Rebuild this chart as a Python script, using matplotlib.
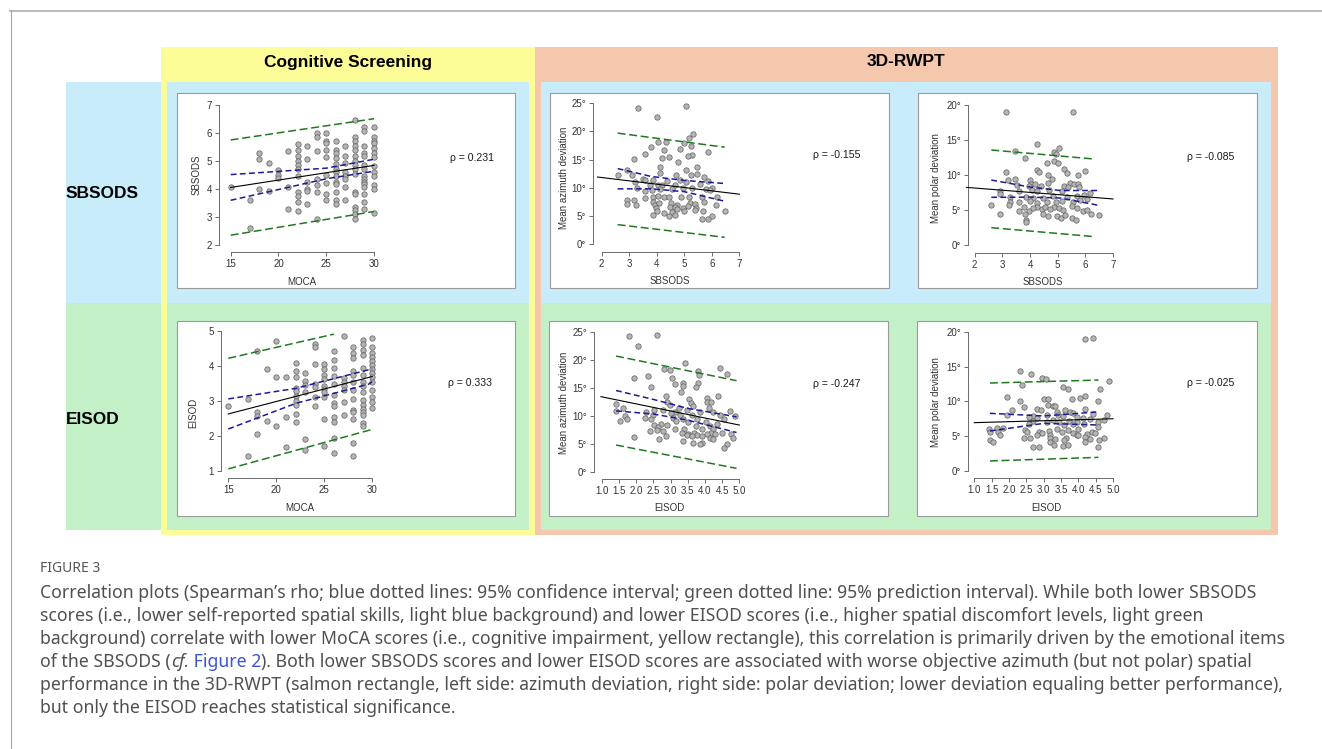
import numpy as np
import matplotlib.pyplot as plt

plt.rcParams['font.family'] = ['Liberation Sans', 'DejaVu Sans']

W, H = 1322, 749

# ---------------- data ----------------
moca_levels = [15, 17, 18, 19, 20, 21, 22, 23, 24, 25, 26, 27, 28, 29, 30]

# SBSODS vs MoCA
sbsods_by_moca = [
    [4.07], [3.60, 2.60], [5.29, 5.08, 4.01], [4.95, 3.94], [4.67, 4.51, 4.39],
    [5.35, 4.07, 3.29],
    [5.62, 5.40, 5.20, 5.01, 4.85, 4.71, 4.48, 3.89, 3.76, 3.54, 3.21],
    [5.55, 5.07, 4.27, 4.00, 3.93, 3.46],
    [6.00, 5.88, 5.36, 4.36, 4.15, 3.88, 2.94],
    [6.00, 5.74, 5.64, 5.40, 5.14, 4.49, 4.21, 3.81, 3.62],
    [5.74, 5.40, 5.29, 5.10, 4.90, 4.73, 4.63, 4.48, 4.27, 4.17, 3.89, 3.62, 3.48],
    [5.55, 5.20, 4.95, 4.63, 4.48, 4.36, 4.07, 3.62],
    [6.48, 5.88, 5.74, 5.55, 5.40, 5.20, 5.01, 4.85, 4.73, 4.55, 3.89, 3.81, 3.36, 3.24, 3.12, 2.94],
    [6.21, 6.08, 5.55, 5.29, 5.20, 4.85, 4.73, 4.48, 4.36, 4.27, 4.17, 4.07, 3.81, 3.54, 3.29],
    [6.21, 5.88, 5.74, 5.64, 5.46, 5.29, 5.14, 4.81, 4.63, 4.48, 4.13, 4.01, 3.14],
]

# EISOD vs MoCA
eisod_by_moca = [
    [2.87], [3.05, 1.43], [4.43, 2.68, 2.56, 2.06], [3.92, 2.43], [4.72, 3.68, 2.30],
    [3.68, 2.55, 1.68],
    [4.10, 3.87, 3.68, 3.38, 3.29, 3.15, 3.00, 2.89, 2.62, 2.41],
    [3.79, 3.56, 3.46, 3.25, 1.92, 1.61],
    [4.62, 4.53, 4.05, 3.49, 3.41, 3.12, 2.87],
    [4.05, 3.91, 3.74, 3.63, 3.44, 3.34, 3.25, 3.12, 2.50, 1.72],
    [4.43, 4.17, 3.93, 3.72, 3.50, 3.17, 2.93, 2.87, 2.55, 2.41, 1.93, 1.52],
    [4.87, 3.67, 3.55, 3.44, 3.31, 2.98, 2.60],
    [4.55, 4.36, 4.22, 3.86, 3.74, 3.55, 3.31, 3.06, 2.74, 2.68, 2.49, 1.79, 1.43],
    [4.74, 4.62, 4.46, 4.31, 3.93, 3.74, 3.55, 3.43, 3.25, 3.03, 2.90, 2.77, 2.68, 2.60, 2.36, 2.30],
    [4.81, 4.55, 4.36, 4.27, 4.14, 4.03, 3.91, 3.79, 3.70, 3.55, 3.31, 3.12, 2.98, 2.79],
]

# (SBSODS, mean azimuth deviation)
sbsods_azimuth = [
    (3.33, 24.2), (5.06, 24.6), (4.00, 22.5), (5.33, 19.6), (5.18, 18.8), (4.99, 17.9),
    (4.04, 18.1), (4.33, 18.2), (5.87, 16.4), (3.80, 17.2), (4.26, 16.7), (4.84, 16.9),
    (5.26, 17.5), (5.28, 15.9), (5.13, 15.7), (3.57, 16.0), (3.19, 15.1), (4.19, 15.3),
    (4.45, 15.4), (4.78, 14.5), (4.11, 13.7), (5.46, 13.7), (2.93, 13.2), (5.05, 13.1),
    (4.12, 12.6), (5.45, 12.5), (2.58, 12.2), (3.10, 12.2), (4.70, 12.2), (5.24, 12.2),
    (5.72, 11.9), (3.49, 11.5), (3.87, 11.4), (4.39, 11.2), (4.85, 11.4), (5.08, 11.0),
    (5.87, 11.2), (3.20, 11.0), (3.58, 11.3), (3.75, 10.4), (4.03, 10.5), (4.19, 10.4),
    (4.66, 10.5), (5.59, 10.7), (3.27, 9.9), (3.58, 9.4), (3.83, 9.6), (4.12, 9.8),
    (4.54, 9.7), (4.94, 10.0), (5.28, 9.9), (5.78, 9.8), (6.00, 9.9), (5.93, 9.6),
    (3.58, 8.1), (3.85, 8.4), (4.04, 8.6), (4.26, 8.3), (4.45, 8.3), (4.87, 8.3),
    (5.18, 8.3), (5.63, 8.4), (6.18, 8.3), (2.93, 7.8), (3.16, 7.8), (2.93, 7.1),
    (3.26, 6.9), (3.87, 7.5), (3.95, 6.9), (4.08, 7.2), (4.50, 7.2), (4.73, 6.9),
    (5.20, 7.2), (5.39, 7.1), (5.71, 7.4), (6.17, 6.9), (3.97, 6.4), (4.48, 6.5),
    (4.66, 6.5), (4.94, 6.4), (5.14, 6.7), (5.44, 6.4), (5.69, 5.9), (5.00, 5.9),
    (4.72, 6.2), (5.38, 6.1), (6.47, 5.8), (4.26, 5.5), (4.54, 5.6), (3.87, 5.2),
    (4.45, 5.0), (4.66, 5.1), (5.66, 4.5), (5.86, 4.4), (6.00, 4.9), (4.02, 5.9),
]

# (SBSODS, mean polar deviation)
sbsods_polar = [
    (3.13, 19.0), (5.54, 19.1), (4.27, 14.5), (3.47, 13.4), (5.06, 13.9), (4.87, 13.3),
    (4.95, 13.0), (3.81, 12.5), (4.62, 11.8), (4.87, 12.0), (5.01, 11.8), (5.22, 10.9),
    (4.25, 10.7), (4.34, 10.4), (5.35, 10.3), (3.13, 10.5), (6.00, 10.6), (4.65, 10.0),
    (5.73, 10.0), (3.20, 9.3), (3.47, 9.4), (4.01, 9.3), (4.80, 9.4), (3.54, 8.6),
    (4.05, 8.7), (4.17, 8.7), (4.66, 8.9), (5.45, 8.9), (5.59, 8.7), (5.72, 8.8),
    (3.95, 8.4), (4.39, 8.4), (5.23, 8.4), (5.37, 8.3), (5.78, 8.3), (2.93, 7.7),
    (3.59, 7.7), (4.07, 7.9), (4.27, 7.7), (4.67, 7.9), (5.16, 7.8), (6.17, 7.5),
    (5.95, 7.2), (2.92, 7.3), (3.28, 6.9), (3.86, 6.9), (4.12, 6.8), (4.46, 6.8),
    (4.82, 7.0), (5.33, 6.9), (5.69, 7.0), (6.05, 6.6), (3.28, 6.2), (3.59, 6.1),
    (4.00, 6.3), (4.24, 6.0), (4.60, 6.1), (4.94, 6.2), (5.14, 6.3), (5.57, 6.1),
    (5.81, 6.4), (3.25, 5.7), (2.60, 5.7), (3.59, 4.9), (3.80, 5.4), (4.24, 5.4),
    (4.42, 5.2), (4.54, 5.5), (4.87, 5.4), (5.04, 5.3), (5.20, 5.0), (5.52, 5.6),
    (5.71, 5.3), (5.93, 4.9), (3.98, 4.9), (4.12, 5.3), (2.92, 4.5), (3.82, 4.4),
    (4.48, 4.4), (4.65, 4.2), (4.96, 4.2), (5.13, 3.8), (5.52, 3.9), (5.66, 3.6),
    (6.19, 4.5), (6.48, 4.3), (3.86, 3.6), (3.86, 3.3), (4.72, 5.1), (5.25, 4.3),
    (6.05, 5.0),
]

# (EISOD, mean azimuth deviation)
eisod_azimuth = [
    (1.80, 24.2), (2.61, 24.5), (2.04, 22.5), (3.43, 19.5), (4.44, 18.6), (2.99, 18.2),
    (2.82, 18.3), (3.81, 17.9), (3.83, 17.3), (4.63, 17.4), (2.35, 17.1), (1.93, 16.7),
    (3.05, 16.8), (3.79, 15.8), (3.12, 15.7), (3.37, 15.9), (3.37, 15.3), (3.73, 15.2),
    (2.43, 15.1), (3.31, 14.3), (4.37, 13.6), (2.86, 13.6), (3.54, 13.0), (4.05, 13.1),
    (4.05, 12.5), (4.17, 12.4), (2.88, 12.4), (3.59, 12.2), (1.41, 12.1), (2.98, 12.0),
    (3.66, 11.8), (1.62, 11.3), (3.25, 11.4), (4.13, 11.3), (2.51, 11.0), (2.79, 11.1),
    (3.47, 11.0), (1.42, 10.9), (4.73, 10.8), (2.27, 10.6), (3.13, 10.7), (3.85, 10.6),
    (4.24, 10.7), (3.00, 10.4), (3.27, 10.1), (3.61, 10.2), (2.50, 10.1), (4.44, 10.1),
    (4.87, 10.0), (1.67, 9.9), (2.25, 9.6), (2.42, 9.5), (3.08, 9.6), (3.37, 9.5),
    (3.76, 9.4), (4.56, 9.4), (1.72, 9.4), (1.52, 9.0), (3.17, 9.0), (3.50, 8.9),
    (4.02, 8.8), (4.34, 8.6), (2.72, 8.6), (2.51, 8.3), (2.88, 8.3), (2.64, 8.0),
    (3.74, 8.2), (4.15, 8.2), (3.13, 7.7), (3.39, 7.6), (3.92, 7.6), (4.24, 7.6),
    (2.59, 7.4), (2.41, 7.3), (2.77, 7.3), (3.32, 7.0), (3.51, 6.8), (3.68, 7.0),
    (4.17, 7.0), (4.51, 7.0), (4.76, 6.8), (3.47, 6.5), (3.78, 6.5), (4.05, 6.7),
    (4.29, 6.7), (3.61, 6.4), (3.90, 6.3), (1.92, 6.2), (2.86, 6.4), (2.67, 5.8),
    (4.15, 6.0), (4.24, 5.8), (4.81, 6.0), (3.37, 5.4), (3.90, 5.2), (3.64, 5.1),
    (3.85, 4.9), (4.63, 4.9), (4.56, 4.3),
]

# (EISOD, mean polar deviation)
eisod_polar = [
    (4.18, 18.9), (4.43, 19.1), (2.32, 14.4), (2.63, 13.9), (2.95, 13.4), (3.07, 13.2),
    (4.89, 12.9), (2.38, 12.4), (3.57, 12.0), (3.69, 11.8), (4.63, 11.8), (1.95, 10.6),
    (3.00, 10.4), (3.12, 10.4), (3.82, 10.3), (4.05, 10.5), (4.19, 10.8), (2.32, 10.0),
    (4.58, 10.0), (3.13, 9.5), (3.26, 9.4), (3.32, 9.3), (2.44, 9.2), (2.82, 8.9),
    (2.93, 8.8), (3.63, 8.8), (4.20, 8.9), (2.08, 8.7), (3.38, 8.4), (3.76, 8.5),
    (3.86, 8.3), (4.41, 8.2), (1.95, 8.0), (4.82, 8.0), (3.42, 8.0), (2.70, 7.9),
    (3.09, 8.0), (3.57, 7.9), (3.97, 7.8), (2.58, 7.7), (2.80, 7.6), (4.13, 7.6),
    (4.34, 7.5), (4.74, 7.3), (3.28, 7.3), (3.72, 7.2), (2.70, 7.2), (3.95, 7.1),
    (3.09, 7.0), (3.44, 7.0), (4.58, 7.0), (2.58, 6.8), (3.86, 6.8), (4.16, 6.7),
    (3.59, 6.6), (4.58, 6.3), (1.43, 6.1), (1.66, 6.2), (1.84, 6.2), (2.46, 5.9),
    (3.38, 6.0), (3.71, 5.9), (4.00, 6.1), (1.45, 5.6), (1.69, 5.6), (2.53, 5.6),
    (2.87, 5.6), (3.16, 5.7), (3.52, 5.6), (3.84, 5.4), (4.38, 5.6), (2.94, 5.4),
    (1.74, 5.1), (2.82, 5.2), (3.18, 5.1), (3.95, 5.2), (4.24, 5.3), (4.48, 5.4),
    (2.43, 4.8), (2.61, 4.8), (3.18, 4.8), (3.64, 4.8), (4.18, 4.9), (4.74, 4.8),
    (4.34, 4.6), (1.45, 4.4), (1.55, 4.1), (3.18, 4.2), (3.33, 4.6), (3.60, 4.4),
    (4.19, 4.1), (4.60, 4.5), (3.30, 3.8), (3.55, 3.6), (3.69, 3.8), (2.68, 3.4),
    (2.86, 3.4), (4.58, 3.5), (4.00, 5.2),
]

# regression line, 95% CI and 95% PI, read at a few x positions
fit_x = [[15, 30], [1.85, 7.0], [1.7, 7.0], [15, 30], [0.97, 5.0], [1.0, 5.0]]
fit_y = [[4.06, 4.85], [11.9, 8.85], [8.25, 6.59], [2.63, 3.70], [13.4, 8.33], [6.94, 7.50]]
ci_x = [[15, 25, 30], [2.58, 3.8, 5.0, 6.47], [2.6, 4.0, 5.1, 6.48],
        [15, 22, 29.6, 30], [1.41, 2.5, 3.5, 4.92], [1.45, 3.0, 4.6]]
ci_hi = [[4.52, 4.75, 5.07], [13.4, 12.0, 11.3, 10.75], [9.3, 8.3, 7.8, 7.8],
         [3.06, 3.36, 3.89, 3.91], [14.5, 12.9, 11.3, 9.8], [8.28, 7.9, 8.5]]
ci_lo = [[3.60, 4.37, 4.64], [9.8, 9.8, 9.3, 7.6], [6.83, 6.85, 6.73, 5.68],
         [2.20, 2.93, 3.48, 3.55], [10.85, 10.3, 9.2, 7.0], [5.74, 6.84, 6.6]]
pi_x = [[15, 30], [2.58, 6.47], [2.6, 6.35], [15, 26], [1.41, 4.92], [1.45, 4.58]]
pi_hi = [[5.76, 6.52], [19.7, 17.2], [13.6, 12.3], [4.22, 4.91], [20.65, 16.25], [12.63, 13.06]]
pi_x_lo = [[15, 30], [2.58, 6.47], [2.6, 6.35], [15, 30], [1.41, 4.92], [1.45, 4.58]]
pi_lo = [[2.35, 3.20], [3.44, 1.19], [2.48, 1.19], [1.06, 2.19], [4.76, 0.6], [1.44, 1.96]]

rho_labels = ['ρ = 0.231', 'ρ = -0.155', 'ρ = -0.085', 'ρ = 0.333', 'ρ = -0.247', 'ρ = -0.025']
x_labels = ['MOCA', 'SBSODS', 'SBSODS', 'MOCA', 'EISOD', 'EISOD']
y_labels = ['SBSODS', 'Mean azimuth deviation', 'Mean polar deviation',
            'EISOD', 'Mean azimuth deviation', 'Mean polar deviation']
x_ticks = [[15, 20, 25, 30], [2, 3, 4, 5, 6, 7], [2, 3, 4, 5, 6, 7],
           [15, 20, 25, 30], [1.0, 1.5, 2.0, 2.5, 3.0, 3.5, 4.0, 4.5, 5.0],
           [1.0, 1.5, 2.0, 2.5, 3.0, 3.5, 4.0, 4.5, 5.0]]
y_ticks = [[2, 3, 4, 5, 6, 7], [0, 5, 10, 15, 20, 25], [0, 5, 10, 15, 20],
           [1, 2, 3, 4, 5], [0, 5, 10, 15, 20, 25], [0, 5, 10, 15, 20]]
degree_axis = [False, True, True, False, True, True]

caption_lines = [
    "Correlation plots (Spearman\u2019s rho; blue dotted lines: 95% confidence interval; green dotted line: 95% prediction interval). While both lower SBSODS",
    "scores (i.e., lower self-reported spatial skills, light blue background) and lower EISOD scores (i.e., higher spatial discomfort levels, light green",
    "background) correlate with lower MoCA scores (i.e., cognitive impairment, yellow rectangle), this correlation is primarily driven by the emotional items",
    None,
    "performance in the 3D-RWPT (salmon rectangle, left side: azimuth deviation, right side: polar deviation; lower deviation equaling better performance),",
    "but only the EISOD reaches statistical significance.",
]

# ---------------- layout (pixels) ----------------
# (x-tick px a, b), (y-tick px a, b), left spine px, bottom spine px
panel_px = [
    ((230.7, 374.0), (245.0, 105.3), 219.3, 252.3),
    ((601.7, 739.3), (244.0, 103.3), 593.3, 252.3),
    ((974.7, 1113.0), (245.0, 105.3), 968.3, 253.3),
    ((228.3, 372.3), (471.0, 331.0), 221.0, 478.3),
    ((602.0, 739.3), (471.7, 331.7), 594.3, 479.0),
    ((974.3, 1113.0), (471.0, 331.7), 968.3, 478.3),
]
white_boxes = [(177, 93, 515, 288), (550, 93, 889, 288), (918, 93, 1257, 288),
               (177, 321, 515, 516), (549, 321, 888, 516), (917, 321, 1257, 516)]
rho_pos = [(450, 158), (813, 155), (1187, 157), (448, 383), (813, 384), (1187, 383)]
ylab_pos = [(197, 175), (564, 178), (936, 178), (193, 413), (564, 403), (936, 402)]
xlab_pos = [(302, 282), (670, 281), (1043, 282), (300, 508), (669, 508), (1046, 508)]

fig = plt.figure(figsize=(W / 100, H / 100), dpi=100)
bg = fig.add_axes([0, 0, 1, 1])
bg.set_xlim(0, W)
bg.set_ylim(H, 0)
bg.axis('off')

def box(x0, y0, x1, y1, fc, ec='none', lw=0):
    bg.add_patch(plt.Rectangle((x0, y0), x1 - x0, y1 - y0, facecolor=fc, edgecolor=ec, linewidth=lw))

# page frame
bg.plot([10, W], [10.5, 10.5], color='#bdbdbd', lw=1.5)
bg.plot([10.5, 10.5], [10, H], color='#a8a8a8', lw=0.8)

# coloured background blocks
yellow, salmon, blue, green = '#fdfd97', '#f5c7ad', '#c9ecfa', '#c3f0c7'
box(161, 47, 535, 535, yellow)
box(535, 47, 1278, 535, salmon)
for x0, x1 in [(66, 161), (167, 529), (541, 1271)]:
    box(x0, 82, x1, 303, blue)
    box(x0, 303, x1, 530, green)

for (x0, y0, x1, y1) in white_boxes:
    box(x0, y0, x1, y1, 'white', ec='#9a9a9a', lw=0.8)

bg.text(348, 62, 'Cognitive Screening', ha='center', va='center', fontsize=12.5, fontweight='bold')
bg.text(906, 62, '3D-RWPT', ha='center', va='center', fontsize=12.5, fontweight='bold')
bg.text(66, 194, 'SBSODS', ha='left', va='center', fontsize=12.5, fontweight='bold')
bg.text(66, 419, 'EISOD', ha='left', va='center', fontsize=12.5, fontweight='bold')

# ---------------- scatter panels ----------------
moca_a = np.repeat(moca_levels, [len(v) for v in sbsods_by_moca])
moca_b = np.repeat(moca_levels, [len(v) for v in eisod_by_moca])
scatter_data = [
    (moca_a, np.concatenate(sbsods_by_moca)),
    tuple(np.array(sbsods_azimuth).T),
    tuple(np.array(sbsods_polar).T),
    (moca_b, np.concatenate(eisod_by_moca)),
    tuple(np.array(eisod_azimuth).T),
    tuple(np.array(eisod_polar).T),
]

for i in range(6):
    (xa, xb), (ya, yb), left, bottom = panel_px[i]
    xt, yt = x_ticks[i], y_ticks[i]
    right = xb + 6
    top = yb - 6
    ax = fig.add_axes([left / W, 1 - bottom / H, (right - left) / W, (bottom - top) / H])
    sx = (xb - xa) / (xt[-1] - xt[0])
    sy = (ya - yb) / (yt[-1] - yt[0])
    ax.set_xlim(xt[0] - (xa - left) / sx, xt[0] + (right - xa) / sx)
    ax.set_ylim(yt[0] - (bottom - ya) / sy, yt[0] + (ya - top) / sy)
    ax.patch.set_visible(False)

    x, y = scatter_data[i]
    ax.scatter(x, y, s=15, facecolor='#b4b4b4', edgecolor='#5e5e5e', linewidth=0.5, zorder=2, clip_on=False)
    ax.plot(pi_x[i], pi_hi[i], color='#1f7a1f', lw=1.1, ls=(0, (5.2, 2.4)), zorder=3, clip_on=False)
    ax.plot(pi_x_lo[i], pi_lo[i], color='#1f7a1f', lw=1.1, ls=(0, (5.2, 2.4)), zorder=3, clip_on=False)
    ax.plot(ci_x[i], ci_hi[i], color='#1a1a9c', lw=1.1, ls=(0, (3.8, 2.2)), zorder=3, clip_on=False)
    ax.plot(ci_x[i], ci_lo[i], color='#1a1a9c', lw=1.1, ls=(0, (3.8, 2.2)), zorder=3, clip_on=False)
    ax.plot(fit_x[i], fit_y[i], color='black', lw=0.8, zorder=4, clip_on=False)

    for s in ['top', 'right']:
        ax.spines[s].set_visible(False)
    ax.spines['left'].set_bounds(yt[0], yt[-1])
    ax.spines['bottom'].set_bounds(xt[0], xt[-1])
    for s in ['left', 'bottom']:
        ax.spines[s].set_color('#6a6a6a')
        ax.spines[s].set_linewidth(0.7)
    ax.set_xticks(xt)
    if i in (4, 5):
        ax.set_xticklabels([f'{v:.1f}' for v in xt])
    ax.set_yticks(yt)
    if degree_axis[i]:
        ax.set_yticklabels([f'{v}°' for v in yt])
    ax.tick_params(length=3, width=0.7, color='#6a6a6a', labelsize=7, labelcolor='#333333', pad=2)

    ax.set_xlabel(x_labels[i], fontsize=7, color='#333333')
    ax.set_ylabel(y_labels[i], fontsize=7, color='#333333')
    ax.xaxis.set_label_coords(xlab_pos[i][0], xlab_pos[i][1], transform=bg.transData)
    ax.yaxis.set_label_coords(ylab_pos[i][0], ylab_pos[i][1], transform=bg.transData)
    ax.xaxis.label.set_va('center')
    ax.yaxis.label.set_va('center')

    bg.text(rho_pos[i][0], rho_pos[i][1], rho_labels[i], ha='left', va='center', fontsize=7.6, color='#1a1a1a')

# ---------------- caption ----------------
cap = dict(fontsize=12.7, color='#505050', family=['Noto Sans', 'DejaVu Sans'], va='center', ha='left')
bg.text(40, 568, 'FIGURE 3', fontsize=10, color='#555555', family=['Noto Sans', 'DejaVu Sans'],
        va='center', ha='left', fontweight='semibold')
line_y = [593, 616, 639, 662, 685, 708]
for yy, s in zip(line_y, caption_lines):
    if s is not None:
        bg.text(40, yy, s, **cap)

# mixed-style line
renderer = fig.canvas.get_renderer()
xx = 40
parts = [("of the SBSODS (", {}), ("cf.", {'style': 'italic'}), (" Figure 2", {'color': '#3b55d6'}),
         ("). Both lower SBSODS scores and lower EISOD scores are associated with worse objective azimuth (but not polar) spatial", {})]
for s, kw in parts:
    kk = dict(cap)
    kk.update(kw)
    t = bg.text(xx, line_y[3], s, **kk)
    xx += t.get_window_extent(renderer=renderer).width

fig.savefig('out.png', dpi=100)
